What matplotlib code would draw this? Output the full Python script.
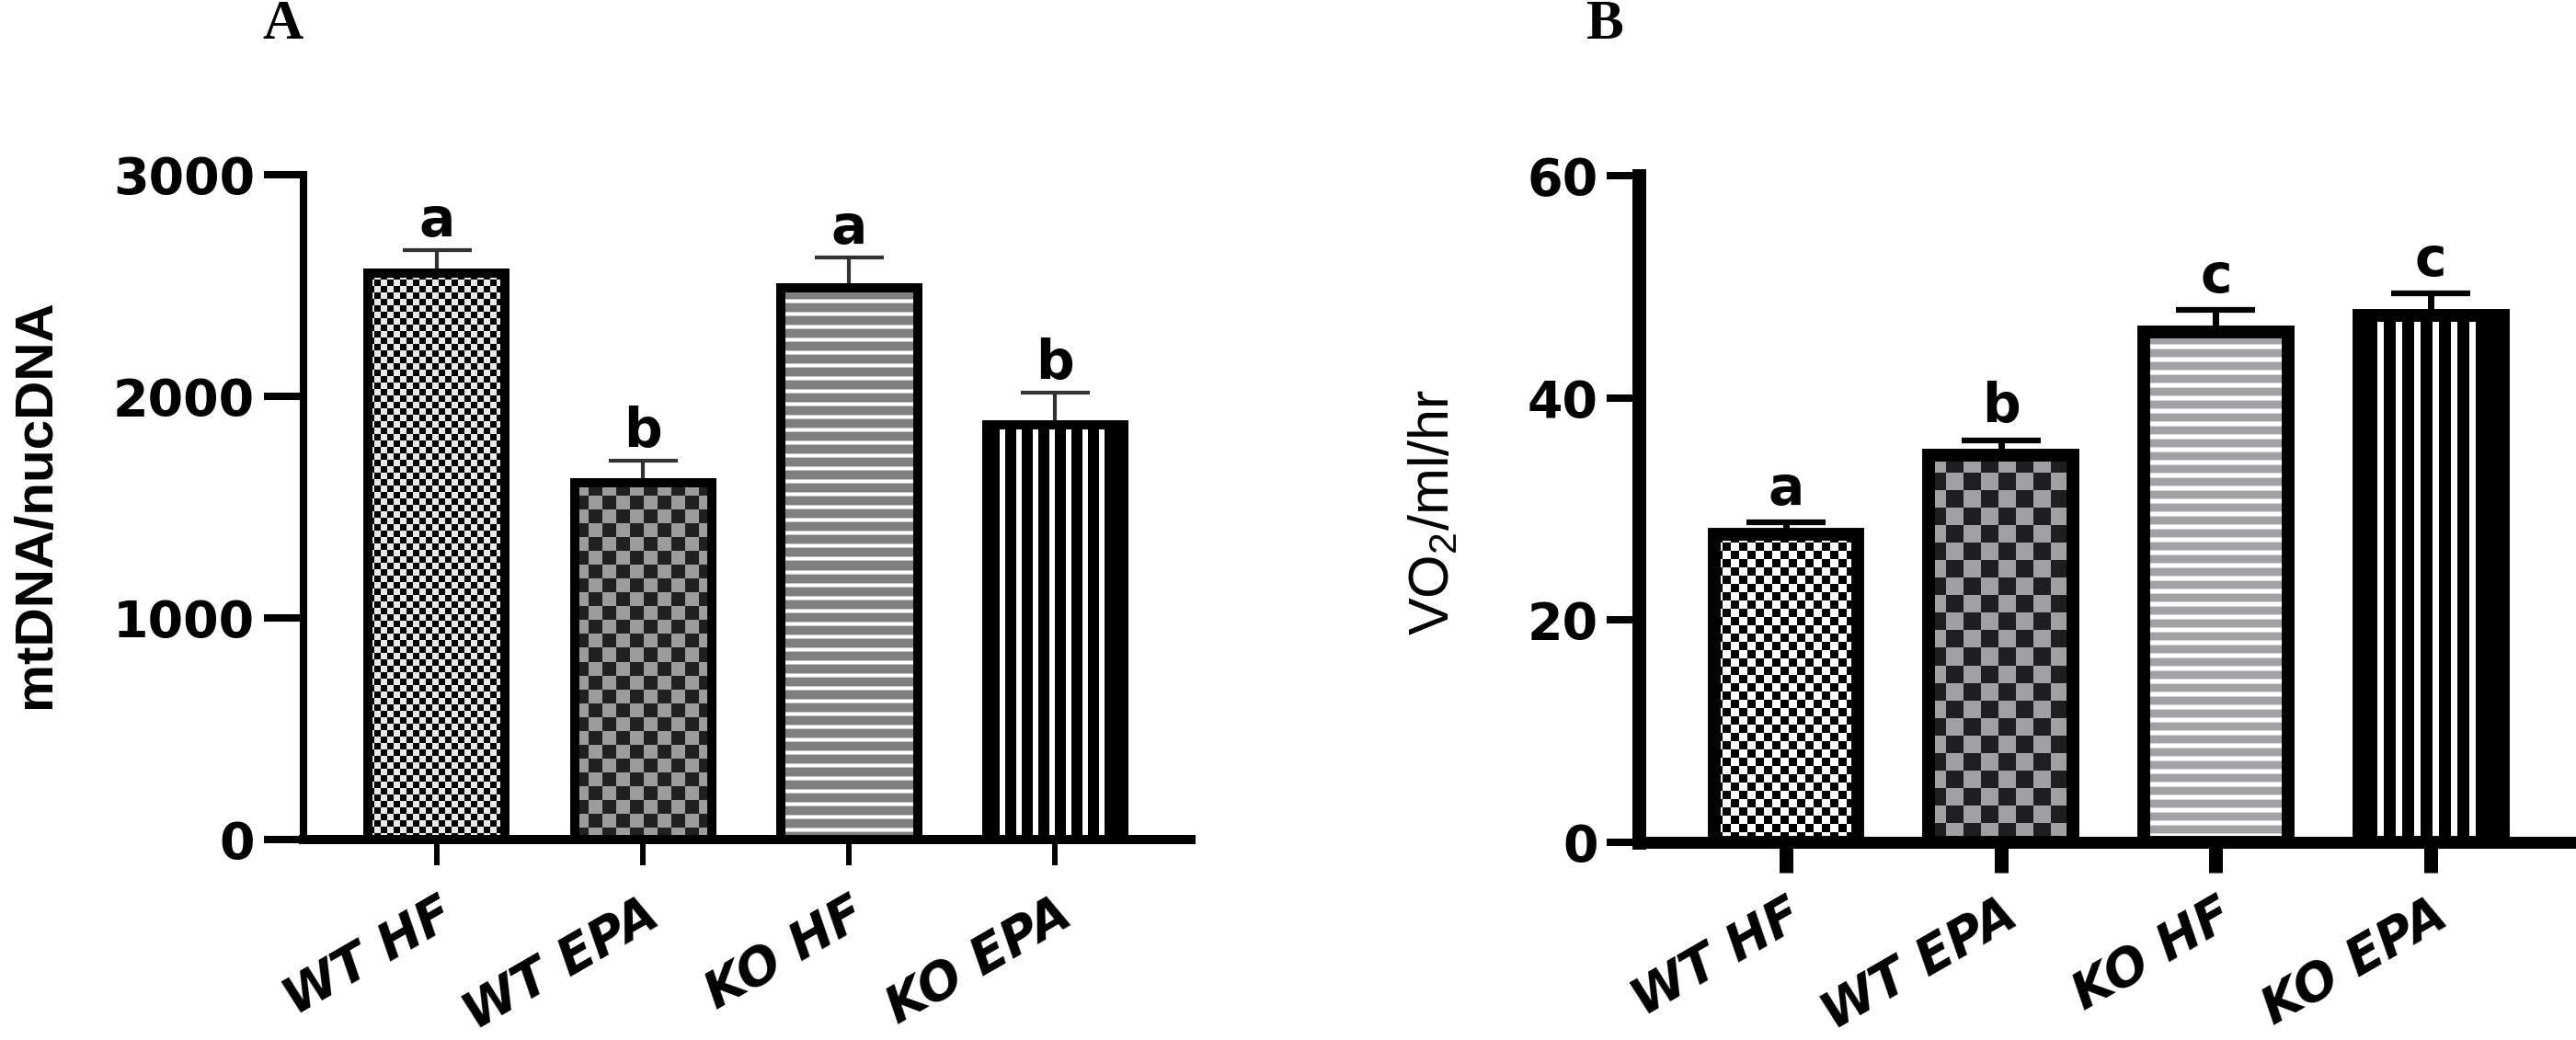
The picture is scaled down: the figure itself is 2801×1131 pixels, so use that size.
import numpy as np
import matplotlib
matplotlib.use("Agg")
import matplotlib.pyplot as plt

# ---------------- data ----------------
groups = ["WT HF", "WT EPA", "KO HF", "KO EPA"]
mt_mean = [2555, 1610, 2490, 1870]
mt_sem = [105, 100, 137, 145]
mt_letters = ["a", "b", "a", "b"]
mt_ticks = [0, 1000, 2000, 3000]

vo2_mean = [27.7, 34.8, 45.9, 47.4]
vo2_sem = [1.1, 1.4, 2.0, 2.0]
vo2_letters = ["a", "b", "c", "c"]
vo2_ticks = [0, 20, 40, 60]

plt.rcParams["font.family"] = ["DejaVu Sans"]
plt.rcParams["mathtext.fontset"] = "custom"
plt.rcParams["mathtext.rm"] = "Liberation Sans"
plt.rcParams["mathtext.it"] = "Liberation Sans:italic"
plt.rcParams["mathtext.bf"] = "Liberation Sans:bold"

W, H = 2801, 1131
fig = plt.figure(figsize=(W / 100, H / 100), dpi=100)


def rgb(h):
    h = h.lstrip("#")
    return np.array([int(h[i:i + 2], 16) / 255 for i in (0, 2, 4)])


def make_pattern(kind, w, h, p):
    yy, xx = np.mgrid[0:h, 0:w]
    img = np.zeros((h, w, 3))
    if kind == "checker":
        c = p["cell"]
        m = ((xx // c + yy // c) % 2) == 0
        img[m] = rgb(p["c1"])
        img[~m] = rgb(p["c2"])
    elif kind == "hstripe":
        per = p["period"]
        ph = yy % per
        img[:] = rgb(p["gray"])
        img[(ph >= 0) & (ph < p["white"])] = rgb("#ffffff")
        img[(ph == p["white"]) | (ph == per - 1)] = rgb(p["light"])
    elif kind == "vstripe":
        per = p["period"]
        x0 = p["x0"]
        img[:] = rgb("#000000")
        ph = (xx - x0) % per
        m = (ph < p["white"]) & (xx >= x0) & (xx < w - p["rblack"])
        img[m] = rgb("#ffffff")
    return img


def panel(ax, means, sems, letters, ticks, ylim, xlim, bw, edge_lw, cfg, patterns):
    x = np.arange(len(means))
    ax.set_xlim(*xlim)
    ax.set_ylim(*ylim)
    fig.canvas.draw()
    for xi, v, (kind, p) in zip(x, means, patterns):
        p0 = ax.transData.transform((xi - bw / 2, 0))
        p1 = ax.transData.transform((xi + bw / 2, v))
        wpx = max(int(round(p1[0] - p0[0])), 2)
        hpx = max(int(round(p1[1] - p0[1])), 2)
        img = make_pattern(kind, wpx, hpx, p)
        ax.imshow(img, extent=(xi - bw / 2, xi + bw / 2, 0, v), aspect="auto",
                  interpolation="nearest", zorder=1)
    ax.bar(x, means, width=bw, facecolor="none", edgecolor="black",
           linewidth=edge_lw, zorder=3)
    ax.errorbar(x, means, yerr=[np.zeros(len(means)), sems], fmt="none",
                ecolor=cfg["ecolor"], elinewidth=cfg["elw"], capsize=cfg["capsize"],
                capthick=cfg["capthick"], zorder=2)
    for xi, v, s, t in zip(x, means, sems, letters):
        ax.annotate(t, (xi, v + s), xytext=(0, cfg["lpad"]), textcoords="offset points",
                    ha="center", va="baseline", fontsize=cfg["lsize"], fontweight="bold")
    ax.set_xlim(*xlim)
    ax.set_ylim(*ylim)
    ax.set_yticks(ticks)
    ax.set_yticklabels([str(t) for t in ticks], fontsize=cfg["ytsize"], fontweight="bold")
    ax.set_xticks(x)
    ax.set_xticklabels(groups, rotation=30, ha="right", va="top", rotation_mode="anchor",
                       fontsize=cfg["xtsize"], fontweight="bold", fontstyle="italic")
    for s in ("top", "right"):
        ax.spines[s].set_visible(False)
    ax.spines["left"].set_linewidth(cfg["ylw"])
    ax.spines["bottom"].set_linewidth(cfg["xlw"])
    ax.spines["left"].set_capstyle("projecting")
    ax.spines["bottom"].set_capstyle("projecting")
    ax.tick_params(axis="y", length=cfg["ytlen"], width=cfg["ytw"], pad=7)
    ax.tick_params(axis="x", length=cfg["xtlen"], width=cfg["xtw"], pad=cfg["xpad"])
    ax.set_facecolor("none")


# ---------------- panel A ----------------
axA = fig.add_axes([330 / W, 1 - 913 / H, (1295 - 330) / W, (913 - 190) / H])
patA = [
    ("checker", dict(cell=7, c1="#000000", c2="#e8e8e8")),
    ("checker", dict(cell=15, c1="#9c9c9c", c2="#202020")),
    ("hstripe", dict(period=14, white=3, gray="#7f7f7f", light="#c4c4c4")),
    ("vstripe", dict(period=18, white=6, x0=14, rblack=16)),
]
cfgA = dict(ecolor="#333333", elw=3.0, capsize=27, capthick=3.0, lpad=11, lsize=42,
            ytsize=40, xtsize=40, ylw=5.8, xlw=7.2, ytlen=31, ytw=5.8,
            xtlen=20, xtw=4.3, xpad=19)
panel(axA, mt_mean, mt_sem, mt_letters, mt_ticks, (0, 3000), (-0.647, 3.66), 0.665, 7.2,
      cfgA, patA)
axA.set_ylabel("mtDNA/nucDNA", fontsize=42, fontweight="bold", family="Liberation Sans")
axA.yaxis.set_label_coords(-0.274, 0.505)

# ---------------- panel B ----------------
axB = fig.add_axes([1782 / W, 1 - 916 / H, (W - 1782) / W, (916 - 191) / H])
patB = [
    ("checker", dict(cell=9, c1="#000000", c2="#ffffff")),
    ("checker", dict(cell=19, c1="#a0a0a2", c2="#1e1e20")),
    ("hstripe", dict(period=14, white=4, gray="#a2a2a6", light="#d8d8d8")),
    ("vstripe", dict(period=20, white=7, x0=20, rblack=24)),
]
cfgB = dict(ecolor="#000000", elw=5.0, capsize=31, capthick=4.5, lpad=14, lsize=42,
            ytsize=40, xtsize=40, ylw=10.8, xlw=9.4, ytlen=25, ytw=5.8,
            xtlen=24, xtw=10.8, xpad=13)
panel(axB, vo2_mean, vo2_sem, vo2_letters, vo2_ticks, (0, 60), (-0.684, 3.675), 0.67, 10,
      cfgB, patB)
axB.set_ylabel("VO$_2$/ml/hr", fontsize=44, family="Liberation Sans")
axB.yaxis.set_label_coords(-0.19, 0.495)

# ---------------- panel titles ----------------
fig.text(307 / W, 1 - 27 / H, "A", fontsize=44, fontweight="bold", family="Liberation Serif",
         ha="center", va="center")
fig.text(1745 / W, 1 - 27 / H, "B", fontsize=44, fontweight="bold", family="Liberation Serif",
         ha="center", va="center")

fig.savefig("out.png", dpi=100, facecolor="white")
